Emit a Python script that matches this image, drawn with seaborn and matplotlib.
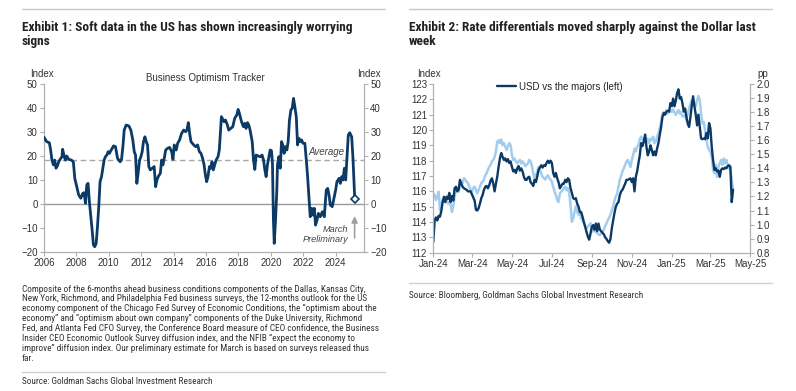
import os
import numpy as np
import pandas as pd
import matplotlib
matplotlib.use("Agg")
import matplotlib.pyplot as plt
from matplotlib.lines import Line2D
from matplotlib import font_manager as fm
import seaborn as sns

# ---------------- data: Exhibit 1 (Business Optimism Tracker) ----------------
bot_years = [2006.00, 2006.16, 2006.33, 2006.41, 2006.49, 2006.58, 2006.66, 2006.74, 2006.82, 2006.91,
             2007.03, 2007.11, 2007.15, 2007.24, 2007.32, 2007.40, 2007.53, 2007.69, 2007.81, 2007.90,
             2008.02, 2008.14, 2008.27, 2008.39, 2008.47, 2008.56, 2008.64, 2008.72, 2008.80, 2008.89,
             2008.97, 2009.05, 2009.13, 2009.22, 2009.30, 2009.38, 2009.46, 2009.55, 2009.63, 2009.71,
             2009.79, 2009.88, 2009.96, 2010.04, 2010.12, 2010.21, 2010.29, 2010.41, 2010.54, 2010.70,
             2010.78, 2010.87, 2010.95, 2011.07, 2011.24, 2011.36, 2011.48, 2011.57, 2011.65, 2011.73,
             2011.81, 2011.90, 2011.98, 2012.06, 2012.14, 2012.23, 2012.31, 2012.39, 2012.47, 2012.56,
             2012.68, 2012.80, 2012.89, 2012.97, 2013.05, 2013.18, 2013.26, 2013.34, 2013.42, 2013.51,
             2013.63, 2013.75, 2013.88, 2013.96, 2014.04, 2014.16, 2014.25, 2014.37, 2014.49, 2014.62,
             2014.74, 2014.82, 2014.91, 2014.99, 2015.07, 2015.24, 2015.36, 2015.48,
             2015.59, 2015.69, 2015.79, 2015.88, 2015.96, 2016.04, 2016.12, 2016.21, 2016.29, 2016.37,
             2016.45, 2016.54, 2016.62, 2016.74, 2016.82, 2016.91, 2016.95, 2017.03, 2017.11, 2017.20,
             2017.32, 2017.40, 2017.53, 2017.65, 2017.77, 2017.90, 2017.98, 2018.06, 2018.19, 2018.31,
             2018.39, 2018.47, 2018.56, 2018.64, 2018.72, 2018.85, 2018.93, 2019.01, 2019.09, 2019.22,
             2019.34, 2019.46, 2019.55, 2019.63, 2019.71, 2019.79, 2019.88, 2019.96, 2020.04, 2020.10,
             2020.16, 2020.21, 2020.29, 2020.37, 2020.41, 2020.49, 2020.58, 2020.66, 2020.74, 2020.82,
             2020.91, 2020.99, 2021.07, 2021.15, 2021.24, 2021.32, 2021.40, 2021.48, 2021.57, 2021.65,
             2021.73, 2021.81, 2021.90, 2021.98, 2022.10, 2022.19, 2022.27, 2022.35, 2022.43, 2022.52,
             2022.60, 2022.68, 2022.76, 2022.85, 2022.93, 2023.05, 2023.18, 2023.30, 2023.42, 2023.51,
             2023.59, 2023.67, 2023.79, 2023.92, 2024.00, 2024.08, 2024.21, 2024.29, 2024.37, 2024.45,
             2024.54, 2024.62, 2024.70, 2024.78, 2024.87, 2024.99, 2025.07, 2025.18]
bot_values = [27.8, 26.0, 25.5, 22.5, 18.3, 16.3, 18.3, 14.9, 15.8, 17.6,
              19.0, 19.7, 22.8, 20.0, 18.3, 20.0, 18.6, 18.3, 17.6, 10.7,
              7.2, 3.8, 2.4, 4.4, 4.7, 0.3, 7.9, 8.6, 1.0, -5.3,
              -10.8, -17.0, -17.8, -16.4, -9.4, -1.1, 9.3, 11.4, 14.9, 18.3,
              19.7, 20.4, 21.8, 21.1, 22.2, 23.2, 24.2, 23.9, 19.0, 17.6,
              18.3, 23.9, 30.8, 32.9, 32.5, 30.8, 26.7, 21.8, 20.4, 8.6,
              12.8, 18.3, 19.7, 21.8, 26.0, 28.0, 26.0, 24.6, 15.6, 14.2,
              14.9, 15.6, 7.2, 10.0, 11.4, 12.8, 18.3, 16.3, 19.0, 22.5,
              23.2, 23.6, 21.8, 18.6, 24.6, 22.5, 25.3, 26.7, 29.4, 30.8,
              30.1, 30.8, 33.9, 29.4, 26.0, 24.6, 23.9, 24.6,
              21.8, 21.1, 19.0, 16.3, 12.1, 9.3, 11.4, 15.6, 14.9, 17.6,
              14.2, 16.3, 18.3, 19.7, 22.5, 32.2, 36.4, 35.3, 34.3, 35.0,
              32.9, 30.8, 31.5, 32.2, 35.7, 37.1, 39.4, 37.8, 34.3, 32.2,
              33.6, 31.5, 33.9, 32.9, 30.8, 26.0, 18.3, 14.4, 20.4, 20.0,
              19.7, 20.4, 18.3, 14.2, 11.4, 16.3, 19.7, 22.5, 22.2, 16.9,
              -6.7, -16.4, -6.7, 5.8, 16.3, 19.7, 14.9, 26.0, 24.6, 21.1,
              23.9, 22.5, 26.0, 35.0, 39.2, 39.9, 44.0, 40.6, 36.4, 24.6,
              27.4, 26.0, 26.7, 25.3, 25.3, 18.3, 11.4, 3.1, -5.3, -1.8,
              -4.6, -1.8, -8.8, -6.7, -3.9, -5.3, -3.2, -5.3, 5.8, 6.5,
              3.8, -0.4, -1.1, 3.1, 5.8, 9.3, 10.7, 8.6, 11.4, 10.0,
              14.9, 10.0, 19.7, 28.7, 29.7, 28.0, 19.0, 1.9]
bot_average = 18.3
bot_years_ticks = [2006, 2008, 2010, 2012, 2014, 2016, 2018, 2020, 2022, 2024]
bot_y_ticks = [-20, -10, 0, 10, 20, 30, 40, 50]

# ---------------- data: Exhibit 2 (USD vs rate differentials) ----------------
usd_index = [112.7, 114.1, 114.3, 114.1, 114.4, 114.35, 114.7, 115.3, 115.65, 115.3,
             115.65, 115.5, 115.9, 115.3, 115.7, 115.4, 116.2, 116.3, 116.0, 116.1,
             116.75, 116.5, 116.3, 116.2, 116.15, 116.1, 116.0, 116.0, 116.0, 115.8,
             115.6, 115.4, 114.8, 114.75, 114.9, 115.2, 115.55, 115.75, 116.1, 116.3,
             116.35, 116.2, 116.4, 116.7, 116.85, 116.5, 116.0, 116.5, 116.95, 117.6,
             118.15, 118.5, 118.25, 118.05, 118.15, 117.95, 118.1, 117.85, 117.95, 117.6,
             117.3, 117.4, 117.2, 117.5, 117.65, 117.35, 117.5, 117.3, 116.95, 116.75,
             116.75, 116.9, 116.95, 116.6, 116.5, 116.35, 116.75, 116.6, 116.95, 117.4,
             117.55, 117.7, 117.55, 117.7, 117.65, 117.85, 118.0, 117.85, 118.0, 117.85,
             117.2, 116.95, 117.2, 116.85, 116.6, 116.2, 116.35, 116.5, 116.5, 116.75,
             116.6, 116.85, 116.75, 116.2, 115.9, 115.55, 115.5, 115.55, 115.2, 115.0,
             114.65, 114.65, 114.35, 114.0, 113.7, 113.35, 113.05, 112.85, 113.25, 113.7,
             113.8,
             113.5, 113.9, 113.4, 113.9, 113.5, 113.4, 113.3, 113.2, 113.0, 112.9,
             112.75, 112.65, 112.9, 113.6, 114.1, 114.6, 115.0, 115.2, 115.3, 115.75,
             116.0, 116.1, 116.3, 116.5, 116.75, 116.75, 116.8, 116.85, 116.6, 116.85,
             116.0, 116.95, 117.3, 117.85, 118.35, 119.15, 118.95, 119.25, 119.7, 118.9,
             118.35, 118.6, 119.0, 118.7, 118.35, 118.6, 118.35, 118.8, 119.15, 119.7,
             120.2, 120.85, 121.1, 121.0, 121.2, 121.25, 121.2, 121.75, 121.55, 122.05,
             121.55, 121.9, 122.4, 122.65, 122.05, 122.15, 121.75, 121.2, 121.4, 120.85,
             120.4, 120.2, 120.85, 121.6, 122.2, 121.55, 121.0, 120.3, 121.0, 120.2,
             119.45, 119.4, 119.45, 119.4, 119.8, 119.45, 120.45, 120.1, 118.9, 118.05,
             117.4, 117.5, 117.3, 117.35, 116.95, 117.4, 117.5, 117.45, 117.55, 117.5,
             117.65, 117.7, 117.6, 115.3, 116.1]
rate_diff = [1.222, 1.21, 1.175, 1.2, 1.234, 1.10, 1.14, 1.175, 1.16, 1.19,
             1.175, 1.15, 1.16, 1.14, 1.09, 1.13, 1.2, 1.245, 1.26, 1.234,
             1.27, 1.305, 1.295, 1.33, 1.32, 1.305, 1.295, 1.27, 1.245, 1.234,
             1.26, 1.27, 1.245, 1.222, 1.245, 1.27, 1.295, 1.305, 1.32, 1.35,
             1.365, 1.39, 1.41, 1.425, 1.45, 1.46, 1.48, 1.52, 1.59, 1.60,
             1.58, 1.605, 1.565, 1.58, 1.555, 1.53, 1.555, 1.58, 1.565, 1.495,
             1.46, 1.47, 1.45, 1.435, 1.45, 1.46, 1.435, 1.45, 1.435, 1.415,
             1.425, 1.435, 1.46, 1.45, 1.415, 1.365, 1.33, 1.35, 1.375, 1.41,
             1.39, 1.365, 1.34, 1.33, 1.32, 1.34, 1.35, 1.33, 1.32, 1.305,
             1.27, 1.234, 1.21, 1.175, 1.16, 1.222, 1.234, 1.245, 1.26, 1.27,
             1.245, 1.26, 1.222, 1.14, 1.02, 1.045, 1.09, 1.13, 1.09, 1.07,
             1.08, 1.045, 1.03, 1.01, 0.985, 0.973, 0.985, 0.997, 1.01, 0.985,
             0.95,
             0.96, 0.95, 0.94, 0.93, 0.925, 0.94, 0.95, 0.965, 0.99, 1.01,
             1.03, 1.05, 1.07, 1.10, 1.13, 1.17, 1.20, 1.22, 1.27, 1.32,
             1.345, 1.38, 1.40, 1.425, 1.45, 1.46, 1.435, 1.41, 1.46, 1.495,
             1.54, 1.52, 1.555, 1.565, 1.61, 1.625, 1.60, 1.61, 1.625, 1.59,
             1.61, 1.58, 1.61, 1.60, 1.625, 1.58, 1.59, 1.625, 1.65, 1.685,
             1.73, 1.79, 1.80, 1.79, 1.815, 1.79, 1.80, 1.815, 1.80, 1.82,
             1.80, 1.78, 1.80, 1.815, 1.79, 1.80, 1.77, 1.77, 1.78, 1.745,
             1.79, 1.825, 1.86, 1.885, 1.85, 1.86, 1.84, 1.885, 1.915, 1.885,
             1.79, 1.72, 1.73, 1.67, 1.60, 1.555, 1.53, 1.52, 1.48, 1.39,
             1.365, 1.425, 1.34, 1.41, 1.435, 1.46, 1.425, 1.47, 1.435, 1.46,
             1.425, 1.40, 1.39, 1.32, 1.25]
fx_start, fx_end = "2024-01-01", "2025-04-05"
fx_ticks = ["2024-01-01", "2024-03-01", "2024-05-01", "2024-07-01", "2024-09-01",
            "2024-11-01", "2025-01-01", "2025-03-01", "2025-05-01"]
fx_left_ticks = list(range(112, 124))
fx_right_ticks = [0.8, 0.9, 1.0, 1.1, 1.2, 1.3, 1.4, 1.5, 1.6, 1.7, 1.8, 1.9, 2.0]

title1 = ["Exhibit 1: Soft data in the US has shown increasingly worrying", "signs"]
title2 = ["Exhibit 2: Rate differentials moved sharply against the Dollar last", "week"]
note_lines = [
    "Composite of the 6-months ahead business conditions components of the Dallas, Kansas City,",
    "New York, Richmond, and Philadelphia Fed business surveys, the 12-months outlook for the US",
    "economy component of the Chicago Fed Survey of Economic Conditions, the \u201coptimism about the",
    "economy\u201d and \u201coptimism about own company\u201d components of the Duke University, Richmond",
    "Fed, and Atlanta Fed CFO Survey, the Conference Board measure of CEO confidence, the Business",
    "Insider CEO Economic Outlook Survey diffusion index, and the NFIB \u201cexpect the economy to",
    "improve\u201d diffusion index. Our preliminary estimate for March is based on surveys released thus",
    "far.",
]
source1 = "Source: Goldman Sachs Global Investment Research"
source2 = "Source: Bloomberg, Goldman Sachs Global Investment Research"

# ---------------- style ----------------
sns.set_style("ticks")
plt.rcParams["font.family"] = ["Liberation Sans", "DejaVu Sans"]
NAVY = "#0c3a66"
LIGHT = "#a3cdee"
TXT = "#333333"
SPINE = "#b0b0b0"
W, H = 796, 391


def find_narrow(bold):
    """Pick an installed condensed / narrow face, else None."""
    best = None
    for f in fm.fontManager.ttflist:
        fn = os.path.basename(f.fname).lower()
        nm = f.name.lower()
        narrow = ("narrow" in nm or "narrow" in fn or "condensed" in fn or "condensed" in nm
                  or str(f.stretch) in ("condensed", "semi-condensed"))
        if not narrow or "extra" in fn or "ultra" in fn or f.style != "normal":
            continue
        w = f.weight if isinstance(f.weight, int) else (700 if "bold" in str(f.weight) else 400)
        if bold and w < 600:
            continue
        if not bold and w != 400:
            continue
        rank = 0 if "liberation" in nm else (1 if "roboto" in nm else (2 if "open" in nm else 3))
        if best is None or rank < best[0]:
            best = (rank, f.fname)
    return fm.FontProperties(fname=best[1]) if best else None


FP_REG = find_narrow(False) or fm.FontProperties(family=["Liberation Sans", "DejaVu Sans"])
FP_BOLD = find_narrow(True) or fm.FontProperties(family=["Liberation Sans", "DejaVu Sans"], weight="bold")

fig = plt.figure(figsize=(W / 100, H / 100), dpi=100)
fig.patch.set_facecolor("white")
renderer = fig.canvas.get_renderer()


def px(x, y):
    return x / W, 1 - y / H


def ftext(x, y, s, **kw):
    fx, fy = px(x, y)
    return fig.text(fx, fy, s, **kw)


def fit_size(s, fp, target_px, base=9.0):
    t = fig.text(0, 0, s, fontproperties=fp, fontsize=base)
    wpx = t.get_window_extent(renderer).width
    t.remove()
    return base * target_px / wpx


def hline(x0, x1, y, color="#c8c8c8", lw=1.0):
    a, b = px(x0, y)
    c, _ = px(x1, y)
    fig.add_artist(Line2D([a, c], [b, b], color=color, lw=lw, transform=fig.transFigure))


def style_axis(ax):
    ax.spines["top"].set_visible(False)
    for s in ["left", "right", "bottom"]:
        ax.spines[s].set_color(SPINE)
        ax.spines[s].set_linewidth(0.9)
    ax.tick_params(axis="both", which="both", direction="out", length=3, width=0.8,
                   color=SPINE, labelsize=7, labelcolor=TXT, pad=1.5)


# ---------------- left chart ----------------
axL = fig.add_axes([44 / W, 1 - 252 / H, 320 / W, 168 / H])
bot_df = pd.DataFrame({"year": bot_years, "value": bot_values})
sns.lineplot(data=bot_df, x="year", y="value", ax=axL, color=NAVY, lw=2.0, zorder=5)
axL.plot(bot_years[-1], bot_values[-1], marker="D", ms=4, mfc="white", mec=NAVY, mew=1.2, zorder=6)
axL.axhline(0, color="#9a9a9a", lw=1.0, zorder=1)
axL.axhline(bot_average, color="#a8a8a8", lw=1.0, ls=(0, (4, 2.5)), zorder=1)
axL.set_xlim(2006, 2025.75)
axL.set_ylim(-20, 50)
axL.set_xticks(bot_years_ticks)
axL.set_xticklabels([str(t) for t in bot_years_ticks])
axL.set_yticks(bot_y_ticks)
axL.set_xlabel("")
axL.set_ylabel("")
style_axis(axL)
axL2 = axL.twinx()
axL2.set_ylim(-20, 50)
axL2.set_yticks(bot_y_ticks)
style_axis(axL2)
axL2.spines["left"].set_visible(False)
axL2.spines["bottom"].set_visible(False)
axL.spines["right"].set_visible(False)

axL.text(2023.44, 21.7, "Average", style="italic", fontsize=7, color="#444444", ha="center", va="center")
axL.annotate("", xy=(2025.17, -3.9), xytext=(2025.17, -15.3),
             arrowprops=dict(arrowstyle="-|>", color="#a0a0a0", lw=1.2, mutation_scale=9))
axL.text(2024.8, -10.7, "March", style="italic", fontsize=6.6, color="#444444", ha="right", va="center")
axL.text(2024.8, -14.6, "Preliminary", style="italic", fontsize=6.6, color="#444444", ha="right", va="center")

ftext(205, 78, "Business Optimism Tracker", fontsize=7, color=TXT, ha="center", va="center")
ftext(30, 74, "Index", fontsize=7, color=TXT, ha="left", va="center")
ftext(357, 74, "Index", fontsize=7, color=TXT, ha="left", va="center")

# ---------------- right chart ----------------
axR = fig.add_axes([433.3 / W, 1 - 252.7 / H, 316.7 / W, 168.7 / H])
usd_dates = pd.date_range(fx_start, fx_end, periods=len(usd_index))
rate_dates = pd.date_range(fx_start, fx_end, periods=len(rate_diff))
axR2 = axR.twinx()
sns.lineplot(x=rate_dates, y=rate_diff, ax=axR2, color=LIGHT, lw=1.8)
sns.lineplot(x=usd_dates, y=usd_index, ax=axR, color=NAVY, lw=1.7, label="USD vs the majors (left)")
axR.set_zorder(axR2.get_zorder() + 1)
axR.patch.set_visible(False)
axR.set_xlim(pd.Timestamp("2024-01-01"), pd.Timestamp("2025-05-01"))
axR.set_ylim(112, 123)
axR.set_yticks(fx_left_ticks)
axR2.set_ylim(0.8, 2.0)
axR2.set_yticks(fx_right_ticks)
axR2.set_yticklabels([f"{t:.1f}" for t in fx_right_ticks])
tick_ts = pd.to_datetime(fx_ticks)
axR.set_xticks(tick_ts)
axR.set_xticklabels([t.strftime("%b-%y") for t in tick_ts])
for a in (axR, axR2):
    a.set_xlabel("")
    a.set_ylabel("")
    style_axis(a)
axR.spines["right"].set_visible(False)
axR2.spines["left"].set_visible(False)
axR2.spines["bottom"].set_visible(False)
leg = axR.legend(loc="center left", bbox_to_anchor=(0.200, 0.984), frameon=False, fontsize=7,
                 handlelength=2.0, handletextpad=0.25, borderpad=0, borderaxespad=0)
for t in leg.get_texts():
    t.set_color("#222222")

ftext(417, 74, "Index", fontsize=7, color=TXT, ha="left", va="center")
ftext(757, 74, "pp", fontsize=7, color=TXT, ha="left", va="center")

# ---------------- titles, notes, sources ----------------
hline(22, 385, 9)
hline(409, 772, 9)
t_size = min(fit_size(title1[0], FP_BOLD, 340), fit_size(title2[0], FP_BOLD, 348))
for i, s in enumerate(title1):
    ftext(22, 27 + 14.5 * i, s, fontproperties=FP_BOLD, fontsize=t_size, color="#222222", ha="left", va="center")
for i, s in enumerate(title2):
    ftext(409, 27 + 14.5 * i, s, fontproperties=FP_BOLD, fontsize=t_size, color="#222222", ha="left", va="center")

b_size = fit_size(note_lines[0], FP_REG, 345)
for i, line in enumerate(note_lines):
    ftext(22, 289 + 9.95 * i, line, fontproperties=FP_REG, fontsize=b_size, color=TXT, ha="left", va="center")
hline(22, 385, 371.5, color="#d0d0d0")
ftext(22, 381.5, source1, fontproperties=FP_REG, fontsize=b_size, color=TXT, ha="left", va="center")
hline(409, 772, 283, color="#d0d0d0")
ftext(409, 295.5, source2, fontproperties=FP_REG, fontsize=b_size, color=TXT, ha="left", va="center")

fig.savefig("out.png", dpi=100, facecolor="white")
